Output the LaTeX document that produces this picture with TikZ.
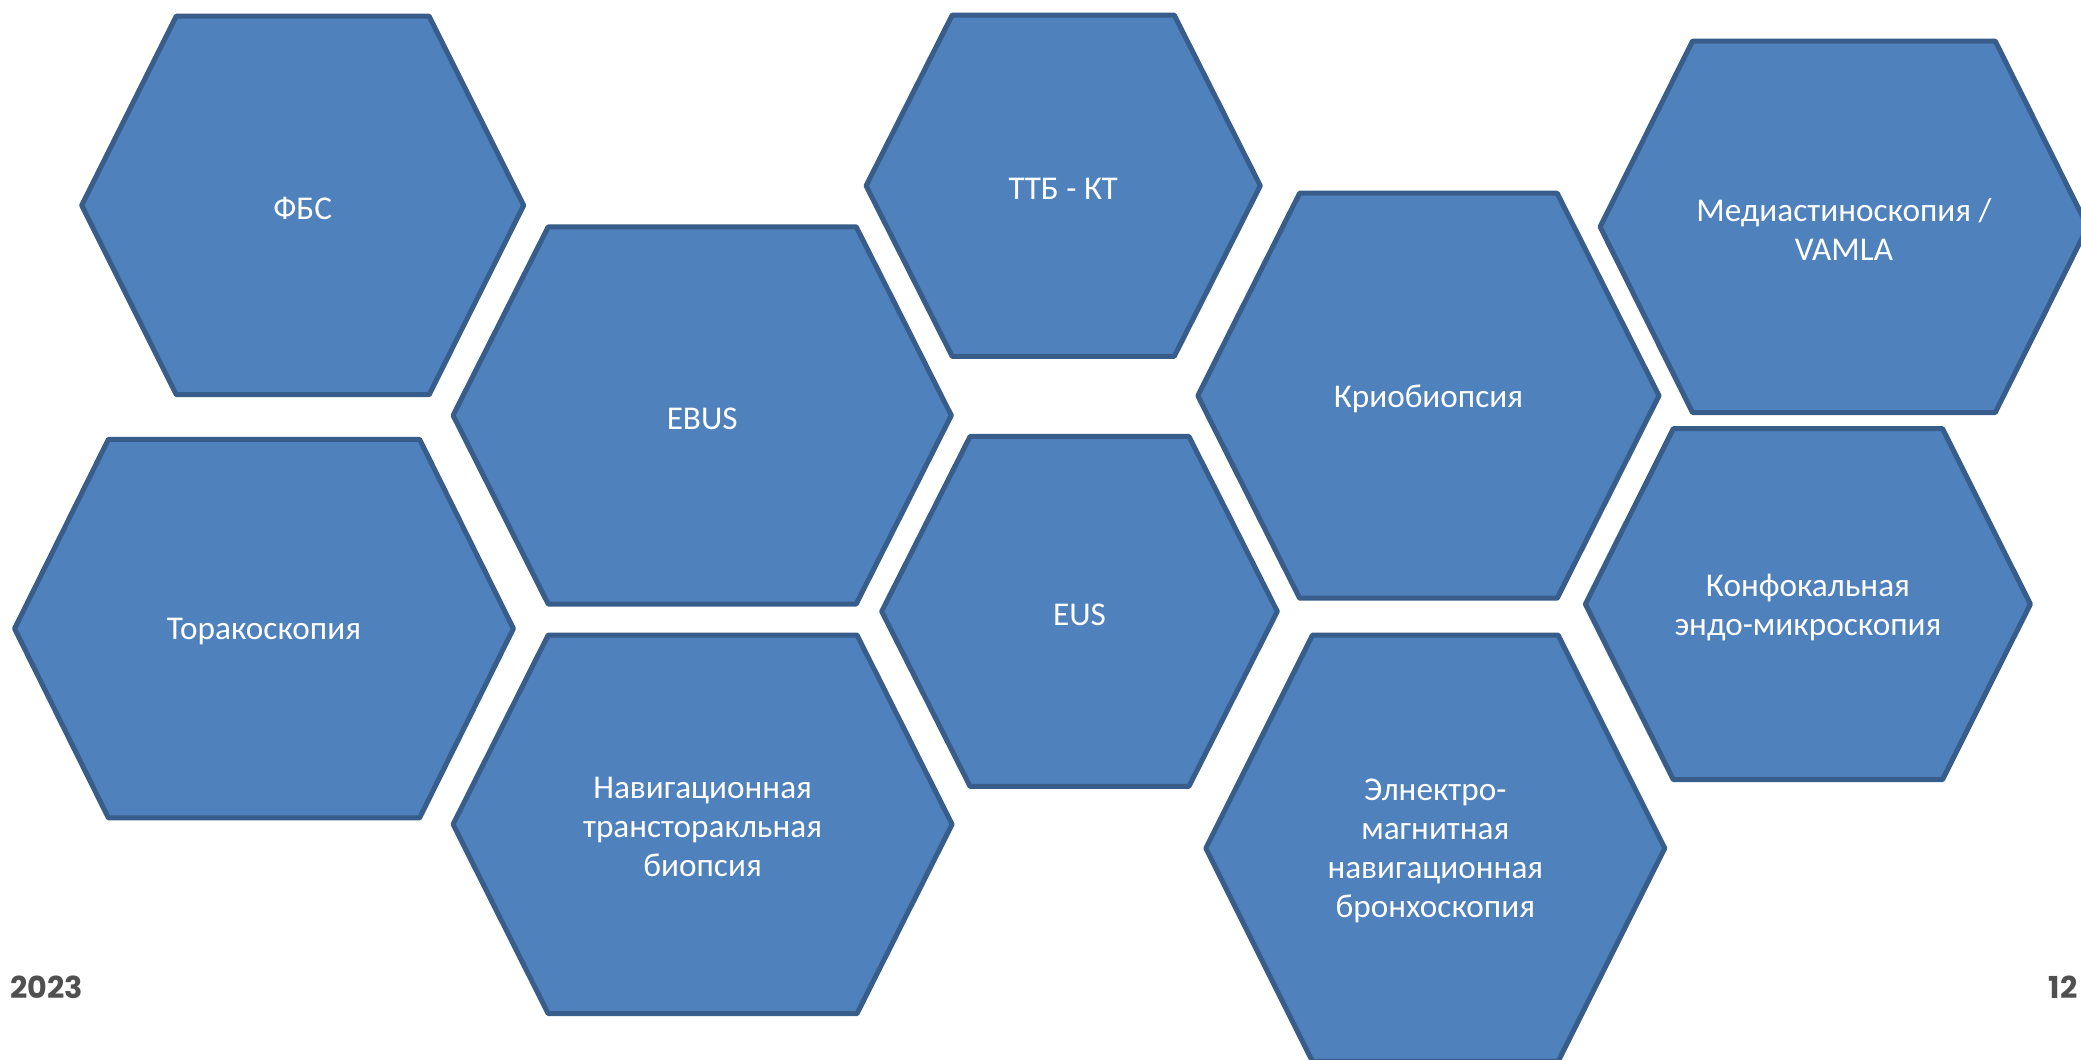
\documentclass[tikz,border=0pt]{standalone}
\usepackage{fontspec}
\setmainfont{Carlito}
\newfontfamily\numfont{Poppins}

\definecolor{cellblue}{HTML}{4F81BD}
\definecolor{celledge}{HTML}{385D8A}
\definecolor{pagegray}{HTML}{505050}

\tikzset{
  cell/.style={fill=cellblue, draw=celledge, line width=0.05cm, line join=round},
  celltext/.style={text=white, align=center, inner sep=0pt,
    font=\fontsize{9.45}{11.1}\selectfont},
  pagenum/.style={text=pagegray, inner sep=0pt, anchor=base west,
    font=\numfont\bfseries\fontsize{8.6}{10}\selectfont}
}

% name, centre x, centre y, half width, half height, slant, text
\newcommand{\hexcell}[7]{%
  \draw[cell] (#2-#4,#3) -- (#2-#4+#6,#3-#5) -- (#2+#4-#6,#3-#5)
    -- (#2+#4,#3) -- (#2+#4-#6,#3+#5) -- (#2-#4+#6,#3+#5) -- cycle;
  \node[celltext] (#1) at (#2,#3+3) {#7};}

\begin{document}
\begin{tikzpicture}[x=0.01cm, y=-0.01cm]
  \useasboundingbox (0,0) rectangle (2081,1059);
  \clip (0,0) rectangle (2081,1059);

  % left column
  \hexcell{fbs}{302.7}{205.4}{221}{189.3}{94.6}{ФБС}
  \hexcell{thoraco}{264}{628.6}{249.4}{189.3}{93.8}{Торакоскопия}
  % second column
  \hexcell{ebus}{702.2}{415.4}{249.1}{188.6}{95.1}{EBUS}
  \hexcell{navtt}{702.6}{824.3}{249.5}{189.3}{95.1}{Навигационная\\трансторакльная\\биопсия}
  % middle column
  \hexcell{ttbkt}{1063.2}{185.7}{197.1}{170.7}{86.1}{ТТБ - КТ}
  \hexcell{eus}{1079.5}{611.4}{197.8}{175}{88.4}{EUS}
  % fourth column
  \hexcell{cryo}{1428.4}{395.7}{230.6}{202.5}{101.8}{Криобиопсия}
  \hexcell{emnb}{1435.3}{848.2}{229.5}{213.2}{106.7}{Элнектро-\\магнитная\\навигационная\\бронхоскопия}
  % right column
  \hexcell{mediast}{1843.9}{226.8}{243.8}{185.7}{92.4}{Медиастиноскопия /\\VAMLA}
  \hexcell{confocal}{1807.9}{604.1}{222.5}{175.5}{87.9}{Конфокальная\\эндо-микроскопия}

  % footer
  \node[pagenum] (year) at (9.8,998) {2023};
  \node[pagenum] (page) at (2048,998) {12};
\end{tikzpicture}
\end{document}
